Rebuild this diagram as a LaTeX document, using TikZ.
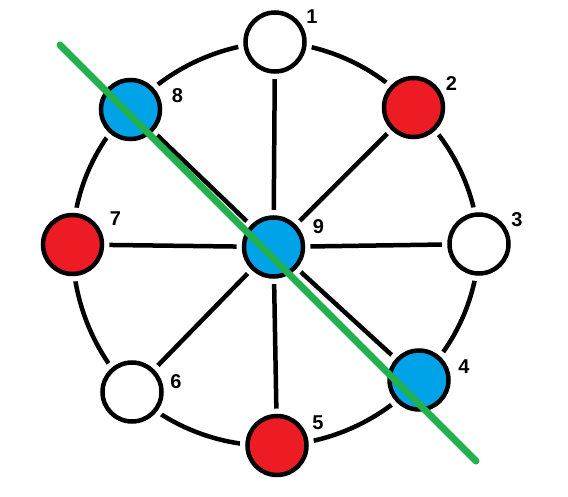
\documentclass[tikz,border=0pt]{standalone}
\usepackage{fontspec}
\setmainfont{Liberation Sans}
\usetikzlibrary{calc,backgrounds}

\definecolor{vred}{HTML}{ED1C24}
\definecolor{vblue}{HTML}{00A2E8}
\definecolor{cutgreen}{HTML}{22B14C}

\tikzset{
  vtx/.style={circle,draw=black,line width=4.5pt,minimum size=59pt,inner sep=0pt,fill=white,
    preaction={draw=white,line width=15pt}},
  num/.style={font=\bfseries\fontsize{20}{20}\selectfont,inner sep=0pt},
  edge/.style={line width=4.5pt},
  rim/.style={edge,bend left=22.5,looseness=0.886},
  cut/.style={line width=7pt,cutgreen,line cap=round}
}

\begin{document}
\begin{tikzpicture}[x=1pt,y=1pt]
\useasboundingbox (0,0) rectangle (568,496);

\node[vtx] (n1) at (275,454) {};
\node[vtx,fill=vred] (n2) at (413.5,388.5) {};
\node[vtx] (n3) at (479,252) {};
\node[vtx,fill=vblue] (n4) at (419,116) {};
\node[vtx,fill=vred] (n5) at (277,50.5) {};
\node[vtx] (n6) at (132,104) {};
\node[vtx,fill=vred] (n7) at (72.5,251.5) {};
\node[vtx,fill=vblue] (n8) at (130.5,386.5) {};
\node[vtx,fill=vblue] (n9) at (273.5,249) {};

\node[num] (l1) at ($(n1)+(37,25)$) {1};
\node[num] (l2) at ($(n2)+(38,24)$) {2};
\node[num] (l3) at ($(n3)+(38,24)$) {3};
\node[num] (l4) at ($(n4)+(45,13)$) {4};
\node[num] (l5) at ($(n5)+(41,23)$) {5};
\node[num] (l6) at ($(n6)+(44,10)$) {6};
\node[num] (l7) at ($(n7)+(43,26)$) {7};
\node[num] (l8) at ($(n8)+(47,14)$) {8};
\node[num] (l9) at ($(n9)+(45,20)$) {9};

\begin{scope}[on background layer]
% spokes
\draw[edge] (n9.center) -- (n1.center);
\draw[edge] (n9.center) -- (n2.center);
\draw[edge] (n9.center) -- (n3.center);
\draw[edge] (n9.center) -- (n4.center);
\draw[edge] (n9.center) -- (n5.center);
\draw[edge] (n9.center) -- (n6.center);
\draw[edge] (n9.center) -- (n7.center);
\draw[edge] (n9.center) -- (n8.center);

% rim
\draw[rim] (n1.center) to (n2.center);
\draw[rim] (n2.center) to (n3.center);
\draw[rim] (n3.center) to (n4.center);
\draw[rim] (n4.center) to (n5.center);
\draw[rim] (n5.center) to (n6.center);
\draw[rim] (n6.center) to (n7.center);
\draw[rim] (n7.center) to (n8.center);
\draw[rim] (n8.center) to (n1.center);
\end{scope}

% cut line
\coordinate (c1) at (60,451);
\coordinate (c2) at (476,35);
\draw[cut] (c1) -- (c2);
\end{tikzpicture}
\end{document}
